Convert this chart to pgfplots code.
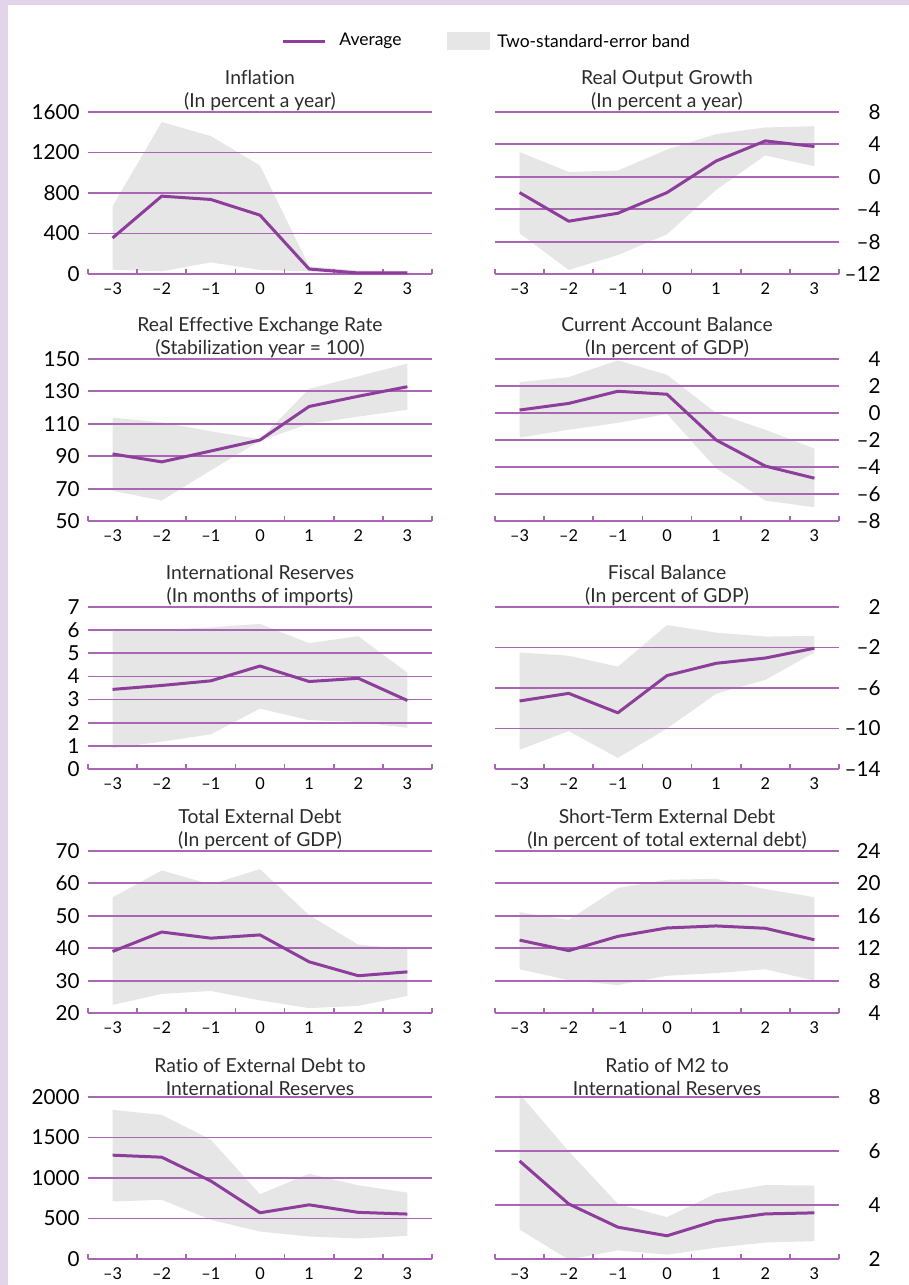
\documentclass[border=0pt]{standalone}
\usepackage{fontspec}
\setmainfont{Lato}[Ligatures={TeX,NoCommon}]
\usepackage{pgfplots}
\usepackage{pgfplotstable}
\pgfplotsset{compat=1.18}
\usepgfplotslibrary{fillbetween}

\definecolor{gridp}{HTML}{A966B3}
\definecolor{linep}{HTML}{8C3E9A}
\definecolor{bandg}{HTML}{E6E6E6}
\definecolor{lav}{HTML}{E3D5E9}
\definecolor{ttl}{HTML}{2B2B2B}

\pgfplotstableread{
x avg up lo
-3 356 670 43
-2 769 1501 26
-1 736 1362 115
0 581 1072 40
1 49 76 26
2 10 35 5
3 10 30 5
}\tA
\pgfplotstableread{
x avg up lo
-3 -1.95 3.05 -6.98
-2 -5.48 0.6 -11.5
-1 -4.5 0.77 -9.66
0 -1.95 3.37 -7.1
1 1.95 5.28 -1.62
2 4.43 6.09 2.64
3 3.74 6.25 1.3
}\tB
\pgfplotstableread{
x avg up lo
-3 91.4 113.8 68.7
-2 86.5 110.9 62.6
-1 93.2 105.4 81.3
0 100 100.5 99.5
1 120.7 131.6 110
2 127 139.3 114.4
3 132.9 147.2 118.7
}\tC
\pgfplotstableread{
x avg up lo
-3 0.22 2.29 -1.83
-2 0.71 2.66 -1.24
-1 1.61 3.9 -0.73
0 1.39 2.83 -0.07
1 -2.0 0.0 -4.1
2 -3.93 -1.24 -6.49
3 -4.83 -2.63 -6.98
}\tD
\pgfplotstableread{
x avg up lo
-3 3.44 5.98 0.9
-2 3.61 6.02 1.18
-1 3.81 6.12 1.5
0 4.45 6.27 2.61
1 3.78 5.44 2.11
2 3.92 5.74 2.03
3 2.96 4.16 1.78
}\tE
\pgfplotstableread{
x avg up lo
-3 -7.28 -2.49 -12.1
-2 -6.53 -2.81 -10.26
-1 -8.45 -3.89 -12.9
0 -4.77 0.22 -10.0
1 -3.56 -0.53 -6.57
2 -3.04 -0.92 -5.2
3 -2.07 -0.86 -2.49
}\tF
\pgfplotstableread{
x avg up lo
-3 39 55.7 22.5
-2 45 64 25.9
-1 43.1 59.7 26.8
0 44.1 64.4 23.9
1 35.8 50.2 21.5
2 31.5 41.1 22.2
3 32.7 39.8 25.3
}\tG
\pgfplotstableread{
x avg up lo
-3 13.0 16.45 9.4
-2 11.7 15.5 8.06
-1 13.46 19.45 7.45
0 14.5 20.45 8.6
1 14.75 20.57 8.93
2 14.46 19.3 9.4
3 13.04 18.3 8.0
}\tH
\pgfplotstableread{
x avg up lo
-3 1282 1841 710
-2 1257 1780 731
-1 963 1473 484
0 571 800 339
1 669 1053 278
2 576 910 253
3 555 820 286
}\tI
\pgfplotstableread{
x avg up lo
-3 5.63 8.11 3.09
-2 4.04 5.99 1.98
-1 3.18 4.04 2.32
0 2.86 3.55 2.16
1 3.42 4.43 2.42
2 3.67 4.74 2.61
3 3.71 4.72 2.66
}\tJ

\pgfplotsset{
  panel/.style={
    set layers, scale only axis, width=206.4pt, height=97.2pt,
    xmin=-3.5, xmax=3.5,
    xtick={-3,...,3}, xticklabels={–3,–2,–1,0,1,2,3},
    minor xtick={-3.5,-2.5,...,3.5},
    axis x line*=bottom,
    x axis line style={draw=gridp, line width=1.3pt, -},
    major tick length=0pt, minor tick length=3pt,
    tick align=inside,
    minor tick style={draw=gridp, line width=1pt},
    xticklabel style={font=\fontsize{9.8pt}{10pt}\selectfont, anchor=north, inner sep=0pt, yshift=-4.8pt, text=black},
    ymajorgrids, grid style={draw=gridp, line width=1.1pt},
    y axis line style={draw=none},
    ytick style={draw=none},
    title style={font=\fontsize{11.6pt}{13.8pt}\selectfont, text=ttl, align=center, anchor=south, inner sep=0pt, yshift=-5.6pt, at={(0.5,1)}},
  },
  leftp/.style={panel, axis y line*=left, yticklabel style={font=\fontsize{12.4pt}{12pt}\selectfont, anchor=east, inner sep=0pt, xshift=-4.8pt, text=black}},
  rightp/.style={panel, axis y line*=right, yticklabel style={font=\fontsize{12.4pt}{12pt}\selectfont, anchor=east, inner sep=0pt, xshift=25.2pt, text=black}},
}
\newcommand{\bandplot}[1]{%
  \addplot[name path=u, draw=none, forget plot] table[x=x,y=up]{#1};
  \addplot[name path=l, draw=none, forget plot] table[x=x,y=lo]{#1};
  \addplot[fill=bandg, draw=none] fill between[of=u and l, on layer=axis background];
  \addplot[linep, line width=1.8pt, line join=round] table[x=x,y=avg]{#1};
}

\begin{document}
\begin{tikzpicture}
\fill[lav] (0,0) rectangle (4.8pt,-771pt);
\fill[lav] (0,0) rectangle (545.4pt,-3pt);
% legend
\draw[linep, line width=1.8pt] (169.8pt,-24.6pt) -- (195pt,-24.6pt);
\node[anchor=west, inner sep=0pt, font=\fontsize{10.5pt}{11pt}\selectfont] at (203.4pt,-24.6pt) {Average};
\fill[bandg] (268.2pt,-19.2pt) rectangle (294pt,-30pt);
\node[anchor=west, inner sep=0pt, font=\fontsize{10.5pt}{11pt}\selectfont] at (298.2pt,-24.6pt) {Two-standard-error band};

\begin{axis}[leftp, at={(52.8pt,-164.4pt)}, anchor=south west,
  ymin=0, ymax=1600, ytick={0,400,...,1600}, yticklabels={0,400,800,1200,1600},
  title={Inflation\\(In percent a year)}]
\bandplot{\tA}
\end{axis}
\begin{axis}[rightp, at={(297pt,-164.4pt)}, anchor=south west,
  ymin=-12, ymax=8, ytick={-12,-8,...,8}, yticklabels={–12,–8,–4,0,4,8},
  title={Real Output Growth\\(In percent a year)}]
\bandplot{\tB}
\end{axis}

\begin{axis}[leftp, at={(52.8pt,-312.6pt)}, anchor=south west,
  ymin=50, ymax=150, ytick={50,70,...,150}, yticklabels={50,70,90,110,130,150},
  title={Real Effective Exchange Rate\\(Stabilization year = 100)}]
\bandplot{\tC}
\end{axis}
\begin{axis}[rightp, at={(297pt,-312.6pt)}, anchor=south west,
  ymin=-8, ymax=4, ytick={-8,-6,...,4}, yticklabels={–8,–6,–4,–2,0,2,4},
  title={Current Account Balance\\(In percent of GDP)}]
\bandplot{\tD}
\end{axis}

\begin{axis}[leftp, at={(52.8pt,-461.4pt)}, anchor=south west,
  ymin=0, ymax=7, ytick={0,...,7}, yticklabels={0,1,2,3,4,5,6,7},
  title={International Reserves\\(In months of imports)}]
\bandplot{\tE}
\end{axis}
\begin{axis}[rightp, at={(297pt,-461.4pt)}, anchor=south west,
  ymin=-14, ymax=2, ytick={-14,-10,...,2}, yticklabels={–14,–10,–6,–2,2},
  title={Fiscal Balance\\(In percent of GDP)}]
\bandplot{\tF}
\end{axis}

\begin{axis}[leftp, at={(52.8pt,-607.8pt)}, anchor=south west,
  ymin=20, ymax=70, ytick={20,30,...,70}, yticklabels={20,30,40,50,60,70},
  title={Total External Debt\\(In percent of GDP)}]
\bandplot{\tG}
\end{axis}
\begin{axis}[rightp, at={(297pt,-607.8pt)}, anchor=south west,
  ymin=4, ymax=24, ytick={4,8,...,24}, yticklabels={4,8,12,16,20,24},
  title={Short-Term External Debt\\(In percent of total external debt)}]
\bandplot{\tH}
\end{axis}

\begin{axis}[leftp, at={(52.8pt,-755.4pt)}, anchor=south west,
  ymin=0, ymax=2000, ytick={0,500,...,2000}, yticklabels={0,500,1000,1500,2000},
  title={Ratio of External Debt to\\International Reserves}]
\bandplot{\tI}
\end{axis}
\begin{axis}[rightp, at={(297pt,-755.4pt)}, anchor=south west, clip=false,
  ymin=2, ymax=8, ytick={2,4,...,8}, yticklabels={2,4,6,8},
  title={Ratio of M2 to\\International Reserves}]
\bandplot{\tJ}
\end{axis}
\pgfresetboundingbox
\path (0,0) rectangle (545.4pt,-771pt);
\end{tikzpicture}
\end{document}
